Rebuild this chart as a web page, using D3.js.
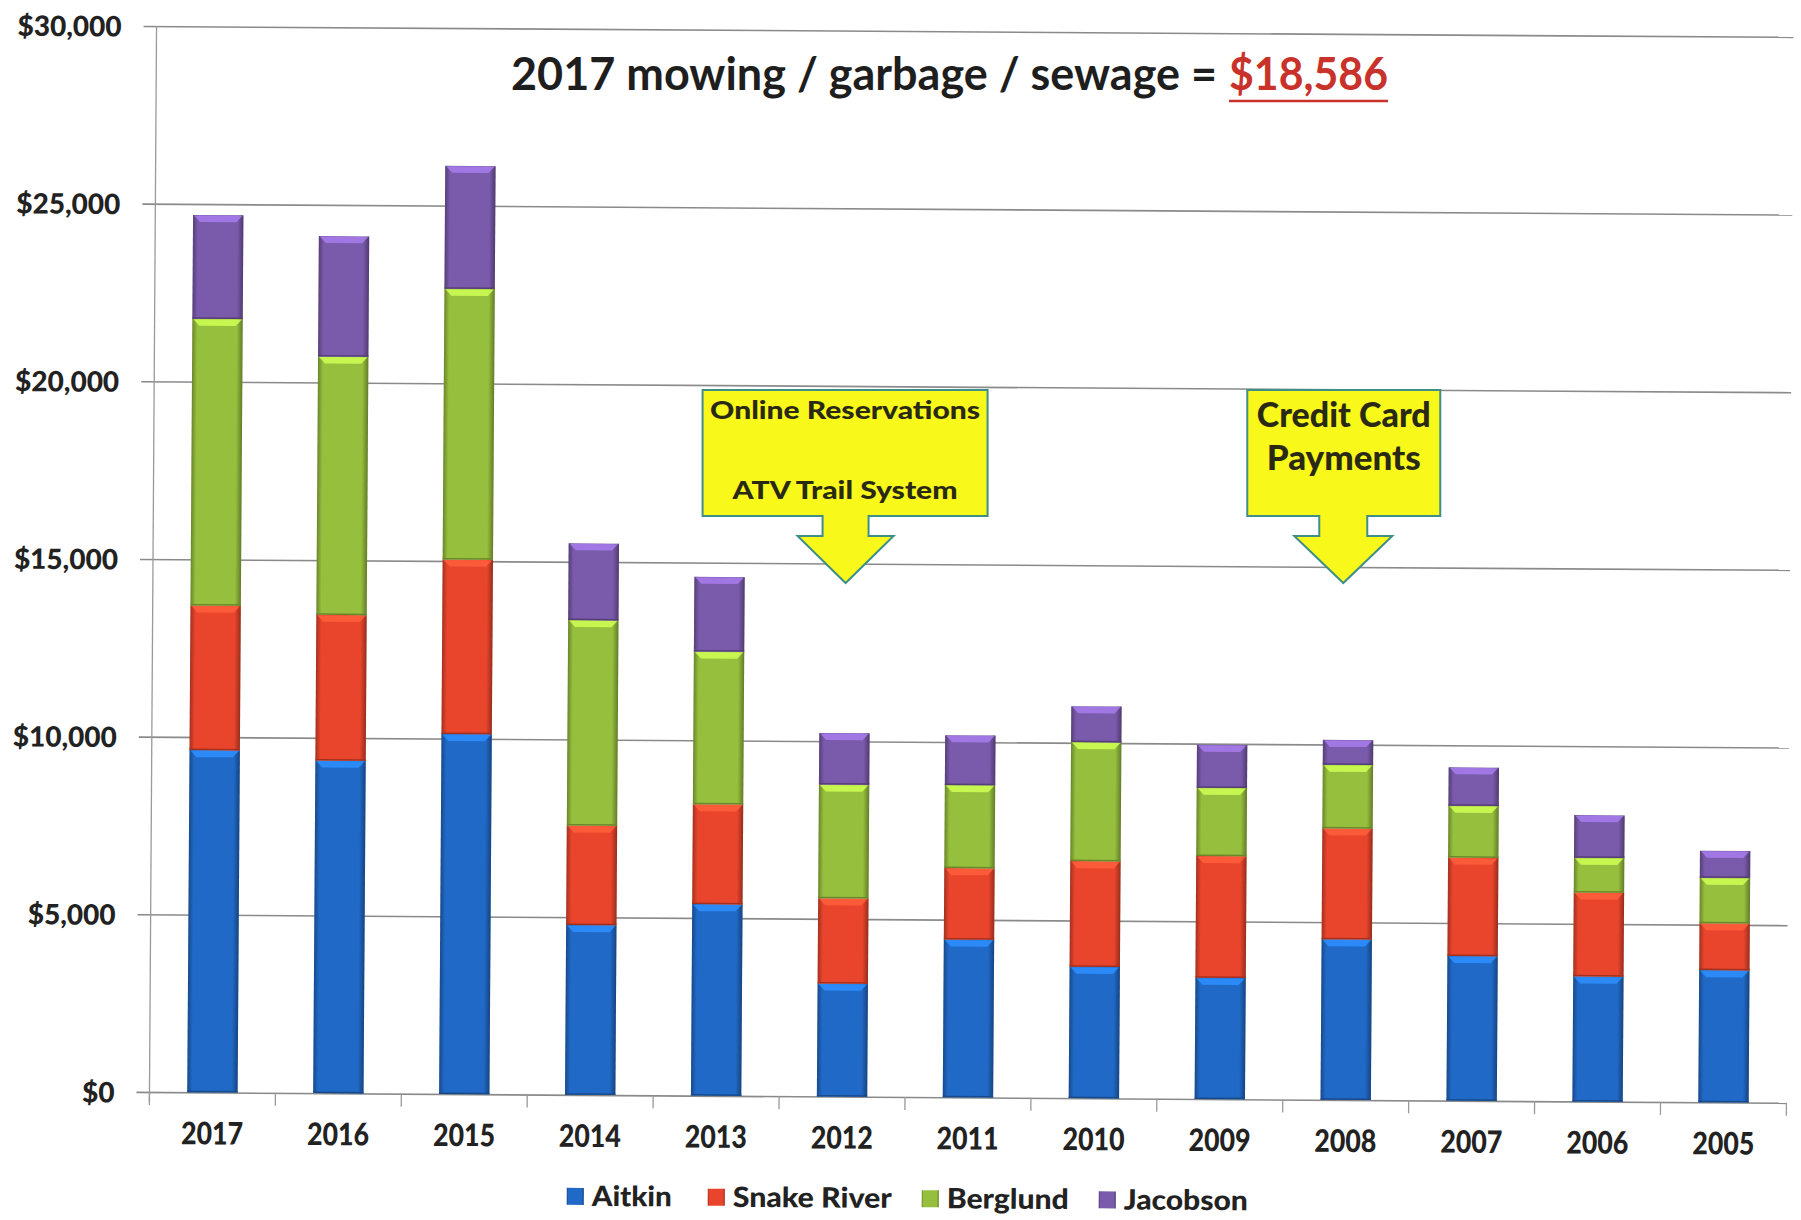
<!DOCTYPE html>
<html>
<head>
<meta charset="utf-8">
<script src="https://cdn.jsdelivr.net/npm/d3@7"></script>
<style>
  html, body { margin: 0; padding: 0; background: #fff; }
  svg { display: block; }
  text { font-family: Lato, "Open Sans", sans-serif; }
</style>
</head>
<body>
<script>
// values
const years = ['2017', '2016', '2015', '2014', '2013', '2012', '2011', '2010', '2009', '2008', '2007', '2006', '2005'];
const aitkin = [9630, 9360, 10130, 4780, 5390, 3180, 4440, 3700, 3410, 4520, 4070, 3520, 3720];
const snakeRiver = [4070, 4100, 4910, 2800, 2810, 2400, 2010, 2970, 3430, 3120, 2770, 2360, 1320];
const berglund = [8070, 7270, 7620, 5780, 4300, 3200, 2340, 3350, 1920, 1790, 1460, 980, 1280];
const jacobson = [2920, 3390, 3460, 2160, 2100, 1450, 1400, 1010, 1210, 700, 1080, 1200, 760];
const seriesNames = ['Aitkin', 'Snake River', 'Berglund', 'Jacobson'];
const yTicks = [0, 5000, 10000, 15000, 20000, 25000, 30000];

const titleText = '2017 mowing / garbage / sewage  =';
const titleAmount = '$18,586';
const callouts = [
  {year: '2012', lines: ['Online Reservations', 'ATV Trail System']},
  {year: '2008', lines: ['Credit Card', 'Payments']}
];

const colors = ['#2169c6', '#e9452c', '#97bf3e', '#7a5aab'];

const svgWidth = 1801;
const svgHeight = 1220;
const plot = {left: 153, right: 1790, top: 26, bottom: 1092};

const svg = d3.select('body').append('svg')
  .attr('width', svgWidth)
  .attr('height', svgHeight);

const defs = svg.append('defs');
const edge = defs.append('linearGradient').attr('id', 'edge')
  .attr('x1', 0).attr('x2', 1).attr('y1', 0).attr('y2', 0);
edge.append('stop').attr('offset', '0%').attr('stop-color', '#000').attr('stop-opacity', 0.3);
edge.append('stop').attr('offset', '10%').attr('stop-color', '#000').attr('stop-opacity', 0.0);
edge.append('stop').attr('offset', '88%').attr('stop-color', '#000').attr('stop-opacity', 0.0);
edge.append('stop').attr('offset', '100%').attr('stop-color', '#000').attr('stop-opacity', 0.35);

// the scan is a little tilted, so tilt the chart the same way
const chart = svg.append('g')
  .attr('transform', 'rotate(0.38, 150, 560)');

const x = d3.scaleBand()
  .domain(years)
  .range([plot.left, plot.right])
  .paddingInner(0.6)
  .paddingOuter(0.3);

const y = d3.scaleLinear()
  .domain([0, 30000])
  .range([plot.bottom, plot.top]);

// gridlines + y labels
const yAxis = chart.append('g')
  .attr('transform', `translate(140,0)`)
  .call(d3.axisLeft(y)
    .tickValues(yTicks)
    .tickSize(-(plot.right - 140))
    .tickPadding(22)
    .tickFormat((d) => '$' + d3.format(',')(d)));
yAxis.select('.domain').remove();
yAxis.selectAll('.tick line')
  .attr('stroke', '#8a8a8a')
  .attr('stroke-width', 1.6);
yAxis.selectAll('.tick text')
  .attr('fill', '#222')
  .style('font-size', '28px')
  .style('font-weight', 900)
  .attr('dy', '0.36em');

chart.append('line')
  .attr('x1', plot.left).attr('x2', plot.left)
  .attr('y1', plot.top).attr('y2', plot.bottom + 10)
  .attr('stroke', '#9a9a9a')
  .attr('stroke-width', 1.3);

// category boundary ticks below the baseline
const bounds = years.map((d) => x(d) - x.step() * x.paddingInner() / 2);
bounds.push(plot.right);
chart.append('g').selectAll('line')
  .data(bounds).enter()
  .append('line')
  .attr('x1', (d) => d).attr('x2', (d) => d)
  .attr('y1', plot.bottom).attr('y2', plot.bottom + 13)
  .attr('stroke', '#9a9a9a')
  .attr('stroke-width', 1.3);

const xAxis = chart.append('g')
  .attr('transform', `translate(0,${plot.bottom})`)
  .call(d3.axisBottom(x).tickSize(0));
xAxis.select('.domain').remove();
xAxis.selectAll('.tick text')
  .attr('y', 52)
  .attr('dy', 0)
  .attr('fill', '#222')
  .attr('textLength', 62)
  .attr('lengthAdjust', 'spacingAndGlyphs')
  .style('font-size', '31px')
  .style('font-weight', 900);

// stacked bars
const table = years.map((yr, i) => ({
  year: yr,
  'Aitkin': aitkin[i],
  'Snake River': snakeRiver[i],
  'Berglund': berglund[i],
  'Jacobson': jacobson[i]
}));
const stacked = d3.stack().keys(seriesNames)(table);

const bw = x.bandwidth();
stacked.forEach((layer, li) => {
  const c = colors[li];
  const g = chart.append('g').attr('class', 'layer');
  layer.forEach((seg) => {
    const x0 = x(seg.data.year);
    const yTop = y(seg[1]);
    const h = y(seg[0]) - y(seg[1]);
    g.append('rect')
      .attr('x', x0).attr('y', yTop)
      .attr('width', bw).attr('height', h)
      .attr('fill', c);
    g.append('rect')
      .attr('x', x0).attr('y', yTop)
      .attr('width', bw).attr('height', h)
      .attr('fill', 'url(#edge)');
    // bevel highlight on top
    const hl = Math.min(7, h / 3);
    g.append('path')
      .attr('d', `M${x0 + 1},${yTop + 0.5}L${x0 + bw - 1},${yTop + 0.5}L${x0 + bw - 7},${yTop + hl}L${x0 + 7},${yTop + hl}Z`)
      .attr('fill', d3.color(c).brighter(0.9))
      .attr('opacity', 0.85);
    g.append('rect')
      .attr('x', x0).attr('y', yTop + h - 1.5)
      .attr('width', bw).attr('height', 1.5)
      .attr('fill', d3.color(c).darker(1));
  });
});

// legend
const legendItems = [
  {name: seriesNames[0], x: 571, len: 80},
  {name: seriesNames[1], x: 712, len: 159},
  {name: seriesNames[2], x: 926, len: 122},
  {name: seriesNames[3], x: 1103, len: 124}
];
const legend = chart.append('g').selectAll('g')
  .data(legendItems).enter()
  .append('g')
  .attr('transform', (d) => `translate(${d.x},1185)`);
legend.append('rect')
  .attr('width', 17).attr('height', 17)
  .attr('fill', (d, i) => colors[i]);
legend.append('rect')
  .attr('width', 17).attr('height', 17)
  .attr('fill', 'url(#edge)');
legend.append('text')
  .attr('x', 25).attr('y', 18)
  .attr('fill', '#222')
  .attr('textLength', (d) => d.len)
  .attr('lengthAdjust', 'spacingAndGlyphs')
  .style('font-size', '28px')
  .style('font-weight', 900)
  .text((d) => d.name);

// title
svg.append('text')
  .attr('x', 511).attr('y', 90)
  .attr('fill', '#1e1e1e')
  .attr('textLength', 706)
  .attr('lengthAdjust', 'spacingAndGlyphs')
  .style('font-size', '45px')
  .style('font-weight', 700)
  .text(titleText);
svg.append('text')
  .attr('x', 1229).attr('y', 90)
  .attr('fill', '#c8322a')
  .attr('textLength', 159)
  .attr('lengthAdjust', 'spacingAndGlyphs')
  .style('font-size', '45px')
  .style('font-weight', 700)
  .text(titleAmount);
svg.append('line')
  .attr('x1', 1229).attr('x2', 1388)
  .attr('y1', 101).attr('y2', 101)
  .attr('stroke', '#c8322a')
  .attr('stroke-width', 2.5);

// callout arrows
const boxes = [
  {dx: 0, left: -143, right: 142, shaft: 23, head: 48, textLen: [270, 225], size: [25, 25], base: [419, 499]},
  {dx: -6, left: -96, right: 97, shaft: 24, head: 49, textLen: [174, 154], size: [34, 34], base: [427, 470]}
];
callouts.forEach((c, i) => {
  const b = boxes[i];
  const cx = x(c.year) + bw / 2 + b.dx;
  const top = 390, bottom = 516, shaftBottom = 536, tip = 583;
  const path = d3.path();
  path.moveTo(cx + b.left, top);
  path.lineTo(cx + b.right, top);
  path.lineTo(cx + b.right, bottom);
  path.lineTo(cx + b.shaft, bottom);
  path.lineTo(cx + b.shaft, shaftBottom);
  path.lineTo(cx + b.head, shaftBottom);
  path.lineTo(cx, tip);
  path.lineTo(cx - b.head, shaftBottom);
  path.lineTo(cx - b.shaft, shaftBottom);
  path.lineTo(cx - b.shaft, bottom);
  path.lineTo(cx + b.left, bottom);
  path.closePath();
  svg.append('path')
    .attr('d', path.toString())
    .attr('fill', '#f8f81a')
    .attr('stroke', '#3f8f88')
    .attr('stroke-width', 2);
  c.lines.forEach((line, j) => {
    svg.append('text')
      .attr('x', cx + (b.left + b.right) / 2)
      .attr('y', b.base[j])
      .attr('text-anchor', 'middle')
      .attr('fill', '#2a2a14')
      .attr('textLength', b.textLen[j])
      .attr('lengthAdjust', 'spacingAndGlyphs')
      .style('font-size', b.size[j] + 'px')
      .style('font-weight', 900)
      .text(line);
  });
});
</script>
</body>
</html>
